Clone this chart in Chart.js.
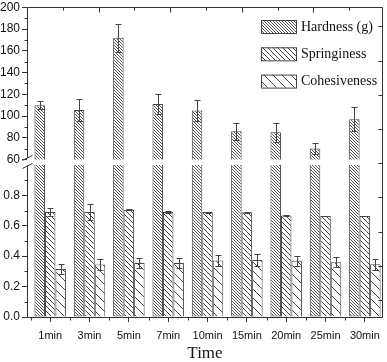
<!DOCTYPE html>
<html>
<head>
<meta charset="utf-8">
<script src="https://cdn.jsdelivr.net/npm/chart.js@4.4.1/dist/chart.umd.min.js"></script>
<style>
  html, body { margin: 0; padding: 0; background: #fff; }
</style>
</head>
<body>
<canvas id="chart" width="387" height="362"></canvas>
<script>
// values
const CATEGORIES = ['1min', '3min', '5min', '7min', '10min', '15min', '20min', '25min', '30min'];
const HARDNESS = [110, 105.5, 172, 111, 105, 86, 85, 70, 97];
const HARDNESS_ERR = [3.5, 10.5, 13, 9, 10, 8, 9, 5, 11];
const SPRINGINESS = [0.69, 0.69, 0.705, 0.69, 0.69, 0.688, 0.667, 0.664, 0.664];
const SPRINGINESS_ERR = [0.025, 0.05, 0.004, 0.004, 0.003, 0.003, 0.002, 0.002, 0.002];
const COHESIVENESS = [0.315, 0.345, 0.355, 0.355, 0.372, 0.375, 0.37, 0.36, 0.347];
const COHESIVENESS_ERR = [0.035, 0.035, 0.035, 0.03, 0.037, 0.038, 0.033, 0.033, 0.035];
const Y_TOP_TICKS = [60, 80, 100, 120, 140, 160, 180, 200];
const Y_BOTTOM_TICKS = [0, 0.2, 0.4, 0.6, 0.8];
const SERIES_NAMES = ['Hardness (g)', 'Springiness', 'Cohesiveness'];

const BOTTOM_TOP = 1.0;   // lower panel is cut here; hardness bars stop at it
const INK = '#444';
const SANS = 'Liberation Sans, Arial, sans-serif';
const SERIF = 'Liberation Serif, Times New Roman, serif';

const ctx = document.getElementById('chart').getContext('2d');

function hatch(period, color) {
  const c = document.createElement('canvas');
  c.width = period; c.height = period;
  const g = c.getContext('2d');
  g.fillStyle = '#fff';
  g.fillRect(0, 0, period, period);
  g.strokeStyle = color;
  g.lineWidth = 1;
  g.beginPath();
  g.moveTo(0, 0); g.lineTo(period, period);
  g.moveTo(-1, period - 1); g.lineTo(1, period + 1);
  g.moveTo(period - 1, -1); g.lineTo(period + 1, 1);
  g.stroke();
  return ctx.createPattern(c, 'repeat');
}
const PATTERNS = [hatch(3, '#555'), hatch(5, '#444'), hatch(9, '#444')];

const pts = arr => arr.map((v, i) => ({ x: i, y: v }));

function barSet(label, data, axis, stack, pattern, errors) {
  return {
    label: label, data: data, yAxisID: axis, stack: stack, errors: errors,
    backgroundColor: pattern, borderColor: INK, borderWidth: 1
  };
}

const lowerHardness = barSet('', HARDNESS.map((v, i) => ({ x: i, y: Math.min(v, BOTTOM_TOP) })), 'yS', 'h', PATTERNS[0], null);
lowerHardness.borderSkipped = 'end';

// error bars, placed with the same scales as the bars
const errorBars = {
  id: 'errorBars',
  afterDatasetsDraw(chart) {
    const c = chart.ctx;
    c.save();
    c.strokeStyle = INK;
    c.lineWidth = 1;
    chart.data.datasets.forEach((ds, di) => {
      if (!ds.errors) return;
      const meta = chart.getDatasetMeta(di);
      const ys = chart.scales[ds.yAxisID];
      meta.data.forEach((bar, i) => {
        const v = ds.data[i].y, e = ds.errors[i];
        const x = Math.round(bar.x) + 0.5;
        const y1 = Math.round(ys.getPixelForValue(v + e)) + 0.5;
        const y2 = Math.round(ys.getPixelForValue(v - e)) + 0.5;
        c.beginPath();
        c.moveTo(x, y1); c.lineTo(x, y2);
        c.moveTo(x - 3, y1); c.lineTo(x + 3, y1);
        c.moveTo(x - 3, y2); c.lineTo(x + 3, y2);
        c.stroke();
      });
    });
    c.restore();
  }
};

// frame with axis break, minor ticks, mirror ticks and the legend
const frame = {
  id: 'frame',
  afterDraw(chart) {
    const c = chart.ctx;
    const a = chart.chartArea;
    const yH = chart.scales.yH, yS = chart.scales.yS, x = chart.scales.x;
    const L = Math.round(a.left) + 0.5, R = Math.round(a.right) - 0.5;
    const T = Math.round(a.top) + 0.5, B = Math.round(a.bottom) + 0.5;
    const breakTop = yH.getPixelForValue(Y_TOP_TICKS[0]) - 1.5;
    const breakBot = yS.getPixelForValue(BOTTOM_TOP) + 1;
    c.save();
    c.strokeStyle = '#333';
    c.lineWidth = 1;
    c.beginPath();
    c.moveTo(L, breakTop); c.lineTo(L, T); c.lineTo(R, T); c.lineTo(R, B); c.lineTo(L, B); c.lineTo(L, breakBot);
    c.moveTo(L - 5, breakTop + 2.5); c.lineTo(L + 5, breakTop - 2.5);
    c.moveTo(L - 5, breakBot + 2.5); c.lineTo(L + 5, breakBot - 2.5);
    for (let i = 0; i < Y_TOP_TICKS.length - 1; i++) {
      const y = Math.round(yH.getPixelForValue((Y_TOP_TICKS[i] + Y_TOP_TICKS[i + 1]) / 2)) + 0.5;
      c.moveTo(L - 3, y); c.lineTo(L, y);
    }
    for (let i = 0; i < Y_BOTTOM_TICKS.length; i++) {
      const next = i + 1 < Y_BOTTOM_TICKS.length ? Y_BOTTOM_TICKS[i + 1] : BOTTOM_TOP;
      const y = Math.round(yS.getPixelForValue((Y_BOTTOM_TICKS[i] + next) / 2)) + 0.5;
      c.moveTo(L - 3, y); c.lineTo(L, y);
    }
    for (let i = 0; i < CATEGORIES.length; i++) {
      const px = Math.round(x.getPixelForValue(i - 0.5)) + 0.5;
      c.moveTo(px, B); c.lineTo(px, B + 3);
    }
    for (let k = 1; k * 35.8 < a.width; k++) {
      const px = Math.round(a.left + k * 35.8) + 0.5;
      c.moveTo(px, T); c.lineTo(px, T + (k % 2 ? 3 : 5));
    }
    for (let k = 0; a.bottom - 17 - k * 34.2 > a.top; k++) {
      const py = Math.round(a.bottom - 17 - k * 34.2) + 0.5;
      c.moveTo(R, py); c.lineTo(R - 4, py);
    }
    c.stroke();

    c.font = '14px ' + SERIF;
    c.textBaseline = 'middle';
    c.textAlign = 'left';
    SERIES_NAMES.forEach((name, i) => {
      const bx = 261, by = 20 + i * 27.3;
      c.fillStyle = PATTERNS[i];
      c.fillRect(bx, by, 35, 13);
      c.strokeStyle = INK;
      c.strokeRect(bx + 0.5, by + 0.5, 35, 13);
      c.fillStyle = '#111';
      c.fillText(name, 301, by + 7);
    });
    c.restore();
  }
};

const yTickFont = { family: SANS, size: 12, lineHeight: 0.9 };

new Chart(ctx, {
  type: 'bar',
  data: {
    datasets: [
      barSet(SERIES_NAMES[0], pts(HARDNESS), 'yH', 'h', PATTERNS[0], HARDNESS_ERR),
      lowerHardness,
      barSet(SERIES_NAMES[1], pts(SPRINGINESS), 'yS', 's', PATTERNS[1], SPRINGINESS_ERR),
      barSet(SERIES_NAMES[2], pts(COHESIVENESS), 'yS', 'c', PATTERNS[2], COHESIVENESS_ERR)
    ]
  },
  options: {
    responsive: false,
    animation: false,
    layout: { padding: { top: 7, right: 3, left: 0, bottom: 0 } },
    datasets: { bar: { categoryPercentage: 0.8, barPercentage: 1.0 } },
    plugins: { legend: { display: false }, tooltip: { enabled: false } },
    scales: {
      x: {
        type: 'linear',
        offset: false,
        min: -0.59, max: 8.46,
        afterBuildTicks: s => { s.ticks = CATEGORIES.map((c, i) => ({ value: i })); },
        afterFit: s => { s.height = 45; },
        grid: { offset: false, drawOnChartArea: false, tickLength: 5, color: '#333' },
        border: { display: false },
        ticks: {
          callback: v => CATEGORIES[v],
          font: { family: SANS, size: 11 }, color: '#111',
          padding: 7, maxRotation: 0, autoSkip: false
        },
        title: {
          display: true, text: 'Time', color: '#111', padding: 0,
          font: { family: SERIF, size: 17, lineHeight: 1 }
        }
      },
      yS: {
        type: 'linear', position: 'left', stack: 'v', stackWeight: 157.5,
        min: 0, max: 1.036,
        afterBuildTicks: s => { s.ticks = Y_BOTTOM_TICKS.map(v => ({ value: v })); },
        afterFit: s => { s.width = 27; },
        grid: { drawOnChartArea: false, tickLength: 5, color: '#333' },
        border: { display: false },
        ticks: { font: yTickFont, color: '#111', padding: 2, autoSkip: false, callback: v => v.toFixed(1) }
      },
      yH: {
        type: 'linear', position: 'left', stack: 'v', stackWeight: 152,
        min: 60, max: 200,
        afterBuildTicks: s => { s.ticks = Y_TOP_TICKS.map(v => ({ value: v })); },
        afterFit: s => { s.width = 27; },
        grid: { drawOnChartArea: false, tickLength: 5, color: '#333' },
        border: { display: false },
        ticks: { font: yTickFont, color: '#111', padding: 2, autoSkip: false, callback: v => String(v) }
      }
    }
  },
  plugins: [errorBars, frame]
});
</script>
</body>
</html>
